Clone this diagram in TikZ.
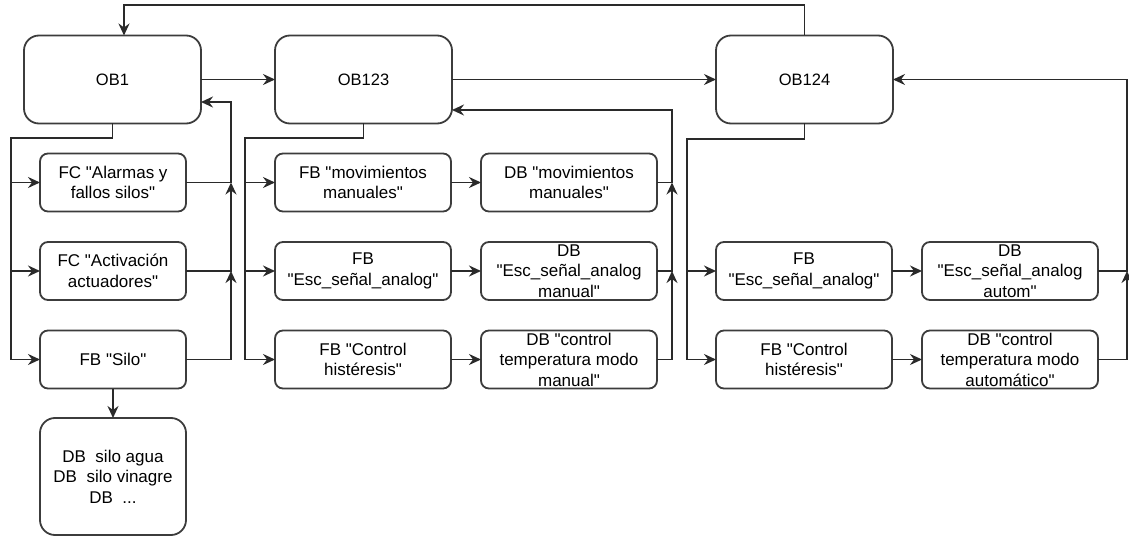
\documentclass[tikz,border=0pt]{standalone}
\usepackage{fontspec}
\setmainfont{Liberation Sans}[Ligatures=TeXOff]
\usetikzlibrary{arrows.meta}
\definecolor{ink}{HTML}{2A2A2A}
\definecolor{frame}{HTML}{3C3C3C}
\begin{document}
\begin{tikzpicture}[x=1pt,y=-1pt,
  every node/.style={inner sep=0pt, outer sep=0pt},
  obbox/.style={draw=frame, line width=1.8pt, rounded corners=15pt,
    minimum width=177pt, minimum height=88pt, font=\fontsize{16.5}{20}\selectfont},
  blk/.style={draw=frame, line width=1.8pt, rounded corners=8pt,
    minimum height=58pt, align=center, font=\fontsize{17}{20.5}\selectfont},
  narrow/.style={blk, minimum width=146pt},
  wide/.style={blk, minimum width=176pt},
  link/.style={draw=ink, line width=1.8pt},
  arr/.style={link, -{Stealth[length=12pt,width=11pt,inset=4pt]}}
]
\useasboundingbox (0,0) rectangle (1129,537);

% organisation blocks
\node[obbox] (ob1)   at (112.5,79.5) {OB1};
\node[obbox] (ob123) at (363.5,79.5) {OB123};
\node[obbox] (ob124) at (804.5,79.5) {OB124};

% blocks called from OB1
\node[narrow] (fcal)   at (113,182.5) {FC "Alarmas y\\fallos silos"};
\node[narrow] (fcact)  at (113,271)   {FC "Activación\\actuadores"};
\node[narrow] (fbsilo) at (113,359.5) {FB "Silo"};
\node[narrow, rounded corners=15pt, minimum height=117pt] (dbsilo) at (113,476.5)
  {DB\ \ silo agua\\DB\ \ silo vinagre\\DB\ \ ...};

% blocks called from OB123
\node[wide] (fbmov) at (363,182.5) {FB "movimientos\\manuales"};
\node[wide] (fbesc) at (363,271)   {FB\\"Esc\_señal\_analog"};
\node[wide] (fbctl) at (363,359.5) {FB "Control\\histéresis"};
\node[wide] (dbmov) at (569,182.5) {DB "movimientos\\manuales"};
\node[wide] (dbesc) at (569,271)   {DB\\"Esc\_señal\_analog\\manual"};
\node[wide] (dbctl) at (569,359.5) {DB "control\\temperatura modo\\manual"};

% blocks called from OB124
\node[wide] (fbesca) at (804,271)    {FB\\"Esc\_señal\_analog"};
\node[wide] (fbctla) at (804,359.5)  {FB "Control\\histéresis"};
\node[wide] (dbesca) at (1010,271)   {DB\\"Esc\_señal\_analog\\autom"};
\node[wide] (dbctla) at (1010,359.5) {DB "control\\temperatura modo\\automático"};

% main sequence and return to OB1
\coordinate (top) at (124,5);
\draw[arr] (ob124.north) |- (top) -- (top |- ob1.north);
\draw[arr] (ob1.east) -- (ob123.west);
\draw[arr] (ob123.east) -- (ob124.west);

% OB1 calls
\coordinate (bus1) at (11,138);
\foreach \t in {fcal,fcact,fbsilo} \draw[arr] (ob1.south) |- (bus1) |- (\t.west);
\draw[arr] (fbsilo.south) -- (dbsilo.north);
\coordinate (ret1) at (231,102);
\draw[arr] (fbsilo.east) -| (ret1 |- fcact.east);
\draw[arr] (fcact.east) -| (ret1 |- fcal.east);
\draw[arr] (fcal.east) -| (ret1) -- (ret1 -| ob1.east);

% OB123 calls
\coordinate (bus2) at (245,138);
\foreach \t in {fbmov,fbesc,fbctl} \draw[arr] (ob123.south) |- (bus2) |- (\t.west);
\draw[arr] (fbmov.east) -- (dbmov.west);
\draw[arr] (fbesc.east) -- (dbesc.west);
\draw[arr] (fbctl.east) -- (dbctl.west);
\coordinate (ret2) at (672,110);
\draw[arr] (dbctl.east) -| (ret2 |- dbesc.east);
\draw[arr] (dbesc.east) -| (ret2 |- dbmov.east);
\draw[arr] (dbmov.east) -| (ret2) -- (ret2 -| ob123.east);

% OB124 calls
\coordinate (bus3) at (687,139);
\foreach \t in {fbesca,fbctla} \draw[arr] (ob124.south) |- (bus3) |- (\t.west);
\draw[arr] (fbesca.east) -- (dbesca.west);
\draw[arr] (fbctla.east) -- (dbctla.west);
\coordinate (ret3) at (1127,79.5);
\draw[arr] (dbctla.east) -| (ret3 |- dbesca.east);
\draw[arr] (dbesca.east) -| (ret3) -- (ob124.east);
\end{tikzpicture}
\end{document}
